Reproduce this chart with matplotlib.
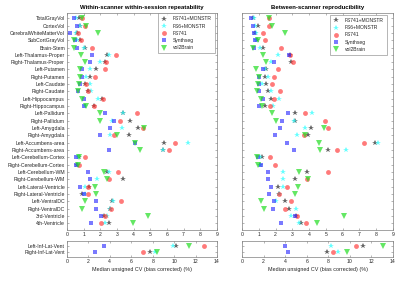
import numpy as np
import matplotlib
matplotlib.use("Agg")
import matplotlib.pyplot as plt
from matplotlib.lines import Line2D

plt.rcParams['font.family'] = ['Liberation Sans', 'DejaVu Sans']

regions = ["TotalGrayVol", "CortexVol", "CerebralWhiteMatterVol", "SubCortGrayVol",
           "Brain-Stem", "Left-Thalamus-Proper", "Right-Thalamus-Proper", "Left-Putamen",
           "Right-Putamen", "Left-Caudate", "Right-Caudate", "Left-Hippocampus",
           "Right-Hippocampus", "Left-Pallidum", "Right-Pallidum", "Left-Amygdala",
           "Right-Amygdala", "Left-Accumbens-area", "Right-Accumbens-area",
           "Left-Cerebellum-Cortex", "Right-Cerebellum-Cortex", "Left-Cerebellum-WM",
           "Right-Cerebellum-WM", "Left-Lateral-Ventricle", "Right-Lateral-Ventricle",
           "Left-VentralDC", "Right-VentralDC", "3rd-Ventricle", "4th-Ventricle"]
inf_regions = ["Left-Inf-Lat-Vent", "Right-Inf-Lat-Vent"]

methods = ["FS741+MONSTR", "FS6+MONSTR", "FS741", "Synthseg", "vol2Brain"]

# Within-scanner within-session repeatability (main regions)
within_fs741_monstr = [0.70, 0.76, 0.60, 0.80, 1.10, 2.40, 2.30, 1.76, 1.40, 1.10, 1.24, 2.10, 1.60,
                       3.36, 3.80, 4.24, 3.70, 5.84, 5.76, 0.70, 0.60, 2.40, 3.36, 1.30, 0.90,
                       2.70, 2.60, 2.24, 2.50]
within_fs6_monstr = [0.56, 0.80, 0.56, 0.60, 1.00, 2.50, 2.00, 1.40, 1.16, 1.40, 1.46, 1.84, 1.10,
                     3.36, 2.70, 3.30, 2.56, 7.24, 5.74, 0.64, 0.66, 2.50, 1.80, 1.10, 1.10,
                     2.74, 2.60, 2.40, 2.30]
within_fs741 = [0.90, 1.10, 0.64, 0.86, 1.50, 2.94, 2.32, 2.26, 1.70, 1.16, 1.24, 2.16, 1.64,
                4.20, 3.16, 4.56, 2.80, 6.50, 6.14, 1.06, 0.70, 3.04, 2.52, 1.24, 1.26,
                3.26, 2.66, 2.28, 2.04]
within_synthseg = [0.44, 0.60, 0.16, 0.48, 0.60, 1.52, 1.36, 0.90, 0.90, 0.76, 0.66, 1.04, 1.04,
                   2.30, 2.80, 2.56, 1.96, 4.10, 2.50, 0.52, 0.56, 1.24, 1.36, 0.80, 1.00,
                   1.74, 1.74, 2.04, 1.44]
within_vol2brain = [0.90, 1.16, 1.84, 0.40, 0.44, 0.86, 1.10, 0.76, 0.80, 0.70, 0.64, 0.90, 1.16,
                    1.96, 1.96, 4.64, 3.00, 4.06, 4.36, 0.72, 0.64, 2.24, 2.40, 1.70, 1.74,
                    1.06, 0.90, 4.86, 3.96]

# Between-scanner reproducibility (main regions)
between_fs741_monstr = [0.65, 0.93, 0.80, 0.90, 1.25, 2.84, 2.92, 1.43, 1.39, 1.43, 1.55, 1.75, 1.39,
                        3.14, 3.18, 4.12, 3.94, 7.95, 5.11, 1.19, 1.10, 3.88, 3.14, 2.13, 2.23,
                        2.58, 2.82, 3.22, 3.54]
between_fs6_monstr = [0.70, 0.75, 0.83, 0.85, 1.09, 2.13, 1.73, 1.39, 1.55, 1.20, 1.75, 2.23, 1.85,
                      4.17, 3.08, 3.78, 3.28, 8.11, 6.20, 1.05, 1.10, 2.45, 2.43, 2.43, 2.20,
                      2.05, 3.22, 2.92, 3.38]
between_fs741 = [1.59, 1.59, 1.25, 1.35, 2.35, 2.84, 3.04, 2.13, 1.89, 1.79, 2.29, 1.89, 1.65,
                 3.74, 4.97, 5.11, 3.68, 7.26, 5.67, 1.65, 1.95, 5.13, 3.88, 2.68, 2.19,
                 2.94, 2.54, 3.28, 3.82]
between_synthseg = [0.56, 0.64, 0.70, 0.76, 0.70, 2.80, 1.93, 1.23, 1.03, 0.99, 0.99, 1.23, 1.03,
                    2.74, 2.39, 2.29, 1.95, 2.68, 3.12, 0.93, 1.13, 1.55, 1.55, 1.75, 1.59,
                    1.89, 1.85, 3.18, 2.35]
between_vol2brain = [1.59, 1.79, 2.54, 0.93, 0.64, 1.25, 1.43, 0.83, 0.99, 0.93, 0.89, 1.15, 1.19,
                     1.79, 2.05, 4.91, 3.74, 4.61, 4.63, 0.89, 0.93, 3.38, 3.92, 3.32, 3.18,
                     1.13, 1.29, 6.06, 4.47]

# Inferior lateral ventricles
within_inf = {"FS741+MONSTR": [10.2, 7.78], "FS6+MONSTR": [9.86, 8.18], "FS741": [12.76, 7.09],
              "Synthseg": [3.42, 2.58], "vol2Brain": [11.39, 8.40]}
between_inf = {"FS741+MONSTR": [11.22, 7.88], "FS6+MONSTR": [8.28, 8.87], "FS741": [10.57, 8.44],
               "Synthseg": [4.02, 4.23], "vol2Brain": [13.07, 9.73]}

within_main = {"FS741+MONSTR": within_fs741_monstr, "FS6+MONSTR": within_fs6_monstr,
               "FS741": within_fs741, "Synthseg": within_synthseg, "vol2Brain": within_vol2brain}
between_main = {"FS741+MONSTR": between_fs741_monstr, "FS6+MONSTR": between_fs6_monstr,
                "FS741": between_fs741, "Synthseg": between_synthseg, "vol2Brain": between_vol2brain}

styles = {
    "FS741+MONSTR": dict(marker="*", color="#555555", ms=4.2, alpha=0.9),
    "FS6+MONSTR": dict(marker="*", color="#33ffff", ms=4.2, alpha=0.75),
    "FS741": dict(marker="o", color="#ff3333", ms=3.5, alpha=0.65),
    "Synthseg": dict(marker="s", color="#3333ff", ms=3.1, alpha=0.65),
    "vol2Brain": dict(marker="v", color="#22dd22", ms=3.8, alpha=0.7),
}

W, H = 400, 281
fig = plt.figure(figsize=(4.0, 2.81), dpi=100)

def ax_at(x0, x1, y0, y1):
    return fig.add_axes([x0 / W, 1 - y1 / H, (x1 - x0) / W, (y1 - y0) / H])

axcol = "#7f7f7f"
txtcol = "#262626"
fs = 3.7

def style_ax(ax):
    for s in ax.spines.values():
        s.set_color(axcol)
        s.set_linewidth(0.5)
    ax.tick_params(direction="in", length=1.6, width=0.4, color=axcol,
                   labelsize=fs, labelcolor=txtcol, pad=1.5,
                   top=True, right=True)

def draw(ax_main, ax_inf, main, inf, title, show_labels):
    y = np.arange(1, len(regions) + 1)
    for m in methods:
        st = styles[m]
        ax_main.plot(main[m], y, linestyle="none", marker=st["marker"], color=st["color"],
                     ms=st["ms"], mew=0, alpha=st["alpha"])
    ax_main.set_xlim(0, 9)
    ax_main.set_ylim(29.9, 0.25)
    ax_main.set_xticks(range(0, 10))
    ax_main.set_yticks(y)
    ax_main.set_yticklabels(regions if show_labels else [])
    ax_main.set_title(title, fontsize=4.3, fontweight="bold", color="black", pad=2.5)
    style_ax(ax_main)

    y2 = np.arange(1, len(inf_regions) + 1)
    for m in methods:
        st = styles[m]
        ax_inf.plot(inf[m], y2, linestyle="none", marker=st["marker"], color=st["color"],
                    ms=st["ms"], mew=0, alpha=st["alpha"])
    ax_inf.set_xlim(0, 14)
    ax_inf.set_ylim(2.7, 0.3)
    ax_inf.set_xticks(range(0, 15, 2))
    ax_inf.set_yticks(y2)
    ax_inf.set_yticklabels(inf_regions if show_labels else [])
    ax_inf.set_xlabel("Median unsigned CV (bias corrected) (%)", fontsize=3.9,
                      color=txtcol, labelpad=2)
    style_ax(ax_inf)

axL = ax_at(67, 217, 12.7, 230)
axLi = ax_at(67, 217, 241, 257)
axR = ax_at(242, 393, 12.7, 230)
axRi = ax_at(242, 393, 241, 257)

draw(axL, axLi, within_main, within_inf, "Within-scanner within-session repeatability", True)
draw(axR, axRi, between_main, between_inf, "Between-scanner reproducibility", False)

handles = [Line2D([], [], linestyle="none", marker=styles[m]["marker"], color=styles[m]["color"],
                  ms=styles[m]["ms"], mew=0, alpha=styles[m]["alpha"]) for m in methods]

for anchor in [(215 / W, 1 - 13.3 / H), (387 / W, 1 - 15 / H)]:
    leg = fig.legend(handles, methods, loc="upper right", bbox_to_anchor=anchor,
                     fontsize=3.6, frameon=True, fancybox=False, labelspacing=0.45,
                     handlelength=1.2, handletextpad=1.2, borderpad=0.6, borderaxespad=0)
    leg.get_frame().set_edgecolor(axcol)
    leg.get_frame().set_linewidth(0.5)
    for t in leg.get_texts():
        t.set_color(txtcol)

fig.savefig("out.png", dpi=100)
